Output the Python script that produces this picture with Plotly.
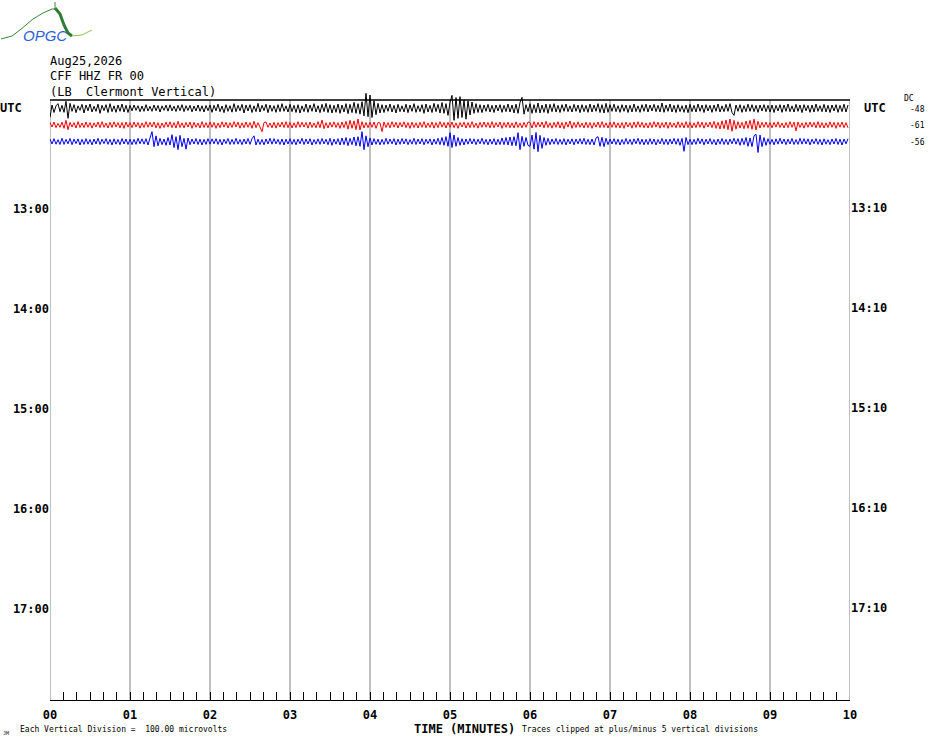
import plotly.graph_objects as go

# helicorder: one row per 10 minutes, 40 samples per minute (1.5 s), values in microvolts
row_labels = ["12:00", "12:10", "12:20"]
trace_colors = ["black", "red", "blue"]
dc_offsets = [-48, -61, -56]
uv_per_division = 100

black_uv = [
    [-54, 20, -25, 15, 28, -20, 18, -24, 42, -60, 30, -18, 22, -26, 15, -12, 24, -28, 20, -15,
     26, -22, 12, -18, 25, -30, 18, -14, 22, -25, 28, -20, 15, -24, 20, -18, 26, -22, 18, -25],
    [18, -15, 20, -12, 16, -20, 14, -18, 22, -16, 12, -18, 20, -14, 17, -22, 15, -12, 19, -17,
     21, -15, 13, -19, 18, -14, 22, -20, 16, -13, 18, -21, 14, -16, 20, -18, 15, -22, 17, -14],
    [20, -24, 18, -15, 25, -20, 14, -26, 22, -18, 16, -23, 28, -20, 18, -15, 24, -28, 20, -16,
     22, -25, 15, -20, 30, -22, 18, -14, 25, -26, 20, -18, 16, -24, 22, -20, 28, -18, 15, -22],
    [24, -20, 18, -25, 22, -28, 15, -20, 26, -24, 20, -18, 28, -22, 16, -26, 24, -20, 30, -25,
     22, -28, 18, -24, 26, -30, 20, -22, 28, -32, 24, -26, 36, -30, 28, -35, 40, -45, 90, -50],
    [80, -55, 45, -38, 30, -28, 22, -25, 20, -18, 26, -22, 18, -28, 24, -20, 15, -22, 25, -26,
     20, -18, 28, -24, 16, -20, 22, -30, 26, -22, 18, -25, 30, -20, 24, -28, 35, -30, 28, -42],
    [35, 78, -72, 65, -60, 70, -55, 50, -65, 45, -40, 38, -30, 28, -25, 22, -26, 20, -18, 24,
     -22, 18, -25, 20, -16, 22, -24, 18, -20, 26, -22, 20, -28, 25, -30, 35, 66, -35, 22, -20],
    [28, -30, 22, -26, 32, -28, 20, -24, 26, -30, 24, -20, 28, -22, 18, -25, 22, -18, 26, -20,
     15, -22, 24, -18, 20, -26, 22, -20, 18, -24, 26, -22, 20, -18, 28, -25, 22, -28, 30, -24],
    [22, -18, 25, -20, 16, -24, 22, -18, 20, -25, 18, -22, 26, -20, 15, -24, 22, -18, 25, -22,
     20, -16, 24, -20, 18, -22, 32, -24, 20, -18, 26, -22, 18, -25, 22, -20, 16, -24, 20, -26],
    [24, -20, 18, -22, 26, -18, 20, -25, 22, -16, 18, -24, 20, -18, 26, -22, 15, -20, 24, -18,
     28, -25, -42, 20, -18, 22, -24, 16, -20, 25, -18, 22, -20, 18, -24, 20, -16, 22, -20, 18],
    [-22, 20, -25, 18, -16, 22, -24, 20, -18, 26, -20, 15, -22, 24, -18, 20, -26, 22, -15, 18,
     -24, 20, -22, 26, -18, 16, -20, 24, -22, 18, -25, 20, -16, 22, -24, 18, -20, 25, -22, 20],
]
red_uv = [
    [15, -12, 18, -16, 10, -14, 17, -20, 28, -28, 16, -12, 14, -18, 20, -15, 12, -16, 18, -14,
     15, -19, 13, -12, 18, -16, 20, -14, 12, -18, 16, -15, 19, -12, 14, -17, 15, -20, 18, -13],
    [14, -16, 18, -12, 15, -19, 13, -15, 20, -14, 16, -12, 18, -17, 14, -20, 12, -15, 17, -13,
     19, -16, 14, -18, 22, -15, 13, -17, 15, -12, 18, -20, 16, -14, 12, -18, 20, -15, 14, -16],
    [18, -14, 15, -20, 12, -16, 19, -13, 16, -18, 14, -15, 20, -12, 17, -19, 13, -16, 18, -14,
     15, -20, 22, -16, 14, -18, -40, 15, 18, -14, 12, -17, 16, -19, 14, -12, 18, -15, 20, -16],
    [15, -18, 13, -16, 20, -14, 17, -12, 15, -19, 18, -15, 12, -17, 20, -16, 30, -22, 14, -18,
     16, -13, 19, -15, 14, -20, 18, -16, 22, -25, 28, -20, 25, -28, 36, -30, 20, -18, 15, -16],
    [16, -14, 18, -20, 15, 12, -40, 18, -15, 14, -17, 20, -13, 16, -18, 15, -12, 19, -16, 14,
     -20, 17, -15, 13, -18, 16, -14, 20, -17, 12, -15, 18, -19, 14, -16, 20, -13, 15, -18, 16],
    [-14, 18, -16, 13, -20, 15, -12, 17, -18, 14, -16, 20, -15, 12, -19, 16, -14, 18, -13, 15,
     -17, 20, -16, 14, -12, 18, -20, 15, -14, 17, -16, 13, -18, 19, -15, 12, -17, 16, -14, 18],
    [15, -18, 20, -14, 16, -12, 18, -17, 22, -15, 13, -19, 16, -14, 20, -18, 15, -22, 18, -13,
     24, -20, 16, -15, 19, -14, 12, -18, 17, -16, 15, -20, 14, -13, 18, -16, 20, -15, 13, -18],
    [16, -14, 19, -16, 13, -18, 15, -20, 17, -12, 14, -19, 18, -15, 20, -14, 16, -17, 13, -18,
     15, -16, 20, -13, 17, -19, 14, -15, 18, -20, 16, -14, 12, -17, 19, -15, 14, -18, 20, -16],
    [15, -18, 13, -16, 20, -14, 17, -19, 15, -12, 18, -16, 22, -20, 16, -24, 25, -22, 30, -28,
     36, -38, 28, -25, 20, -18, 16, -22, 24, -20, 28, -26, 35, -30, 22, -18, 16, -14, 18, -15],
    [14, -17, 16, -13, 19, -15, 12, -18, 15, -16, 20, -14, 17, -35, 18, -15, 13, -19, 16, -14,
     18, -12, 15, -17, 20, -16, 14, -18, 13, -15, 19, -14, 16, -20, 15, -13, 18, -16, 14, -17],
]
blue_uv = [
    [16, -14, 18, -15, 12, -17, 20, -16, 14, -13, 19, -18, 15, -12, 17, -20, 14, -16, 18, -15,
     13, -19, 16, -14, 20, -17, 15, -12, 18, -16, 14, -20, 17, -15, 13, -18, 19, -14, 16, -17],
    [15, -18, 14, -16, 20, -13, 17, -15, 18, -20, 22, 60, -30, 35, -25, 20, -18, 16, -22, 25,
     -20, 42, -35, 30, -48, 38, -30, 20, -45, 22, -18, 16, -14, 19, -17, 15, -20, 14, -16, 18],
    [-15, 17, -13, 18, -16, 14, -20, 15, -12, 19, -17, 14, -16, 20, -15, 13, -18, 16, -14, 19,
     -16, 18, 35, -20, 15, -17, 13, -19, 16, -14, 20, -15, 18, -13, 14, -17, 16, -20, 15, -14],
    [18, -16, 14, -19, 15, -13, 20, -17, 16, -14, 18, -20, 13, -15, 17, -16, 19, -14, 15, -18,
     20, -22, 16, -15, 18, -20, 22, -18, 25, -24, 20, -18, 28, -25, 30, -28, 60, -48, 35, -30],
    [22, -20, 18, -16, 15, -19, 14, -17, 20, -15, 16, -13, 18, -20, 15, -16, 19, -14, 17, -18,
     13, -15, 20, -17, 16, -14, 18, -19, 15, -12, 17, -20, 16, -15, 20, -18, 25, -22, 30, -28],
    [54, -35, 40, -28, 25, -22, 18, -20, 16, -15, 19, -14, 17, -18, 15, -13, 20, -16, 14, -19,
     16, -15, 18, -20, 14, -17, 22, -18, 25, -20, 28, -24, 30, -25, 54, -48, 32, -28, 25, -22],
    [-28, 40, -45, 55, -60, 38, -40, 25, -22, 20, -18, 16, -15, 19, -17, 14, -16, 18, -20, 15,
     -14, 17, -19, 16, -13, 18, -15, 20, -17, 14, -18, 16, -20, 22, 30, -28, 26, -30, 20, -18],
    [16, -14, 18, -17, 15, -20, 13, -16, 19, -15, 14, -18, 17, -13, 20, -16, 15, -19, 14, -17,
     18, -15, 16, -20, 13, -14, 19, -17, 15, -18, 16, -14, 20, -16, 18, -22, 20, -58, 25, -18],
    [15, -18, 14, -16, 20, -13, 17, -19, 15, -14, 18, -16, 13, -20, 16, -15, 19, -17, 14, -18,
     16, -13, 20, -15, 18, -22, 20, -18, 25, -28, 22, -30, 35, 45, -65, 40, -30, 25, -22, 18],
    [-16, 14, -19, 17, -15, 20, -13, 16, -18, 15, -14, 19, -17, 13, -16, 20, -15, 18, -14, 17,
     -19, 15, -13, 18, -16, 14, -20, 17, -15, 12, -18, 16, -14, 19, -17, 15, -20, 16, -13, 18],
]
traces_uv = [black_uv, red_uv, blue_uv]

minute_ticks = list(range(11))
minute_labels = [f"{m:02d}" for m in minute_ticks]
left_hours = ["13:00", "14:00", "15:00", "16:00", "17:00"]
right_hours = ["13:10", "14:10", "15:10", "16:10", "17:10"]
n_rows = 36


def row_of(label):
    h, m = label.split(":")
    return (int(h) - 12) * 6 + int(m) // 10


def px(x, y):
    # page pixel -> paper coords (plot area spans 50..850 x 88..700)
    return (x - 50) / 800, (700 - y) / 612


mono = "DejaVu Sans Mono"
fig = go.Figure()

for label, color, minutes in zip(row_labels, trace_colors, traces_uv):
    row = row_of(label)
    xs, ys = [], []
    for m, vals in enumerate(minutes):
        for k, v in enumerate(vals):
            xs.append(m + k / len(vals))
            ys.append(row + 0.5 - v / uv_per_division)
    fig.add_trace(go.Scatter(x=xs, y=ys, mode="lines", line=dict(color=color, width=1),
                             hoverinfo="skip", showlegend=False))

# minute grid lines and top border
for m in minute_ticks:
    fig.add_shape(type="line", x0=m, x1=m, y0=0, y1=n_rows, xref="x", yref="y",
                  line=dict(color="#808080", width=1), layer="below")
fig.add_shape(type="line", x0=0, x1=10, y0=0, y1=0, xref="x", yref="y",
              line=dict(color="black", width=1.5))

ann = []
# header
for text, yy in [("Aug25,2026", 61), ("CFF HHZ FR 00", 76), ("(LB\u00a0 Clermont Vertical)", 92)]:
    xp, yp = px(48, yy)
    ann.append(dict(text=text, x=xp, y=yp, xanchor="left", yanchor="middle",
                    font=dict(family=mono, size=12, color="black")))
# UTC labels
ann.append(dict(text="<b>UTC</b>", x=px(-2, 0)[0], y=0.5, yref="y", xanchor="left",
                yanchor="middle", font=dict(family=mono, size=12, color="black")))
ann.append(dict(text="<b>UTC</b>", x=px(862, 0)[0], y=0.5, yref="y", xanchor="left",
                yanchor="middle", font=dict(family=mono, size=12, color="black")))
# right hour labels
for lab, rlab in zip(left_hours, right_hours):
    ann.append(dict(text=f"<b>{rlab}</b>", x=px(849, 0)[0], y=row_of(lab) + 0.5, yref="y",
                    xanchor="left", yanchor="middle", font=dict(family=mono, size=12, color="black")))
# DC offsets
ann.append(dict(text="DC", x=px(902, 0)[0], y=-0.1, yref="y", xanchor="left", yanchor="middle",
                font=dict(family=mono, size=8, color="black")))
for label, dc in zip(row_labels, dc_offsets):
    ann.append(dict(text=str(dc), x=px(927, 0)[0], y=row_of(label) + 0.55, yref="y",
                    xanchor="right", yanchor="middle", font=dict(family=mono, size=8, color="black")))
# footer
for text, xx, size, bold in [("Each Vertical Division =\u00a0 100.00 microvolts", 18, 8, False),
                             ("TIME (MINUTES)", 412, 12, True),
                             ("Traces clipped at plus/minus 5 vertical divisions", 520, 8, False)]:
    xp, yp = px(xx, 729)
    ann.append(dict(text=f"<b>{text}</b>" if bold else text, x=xp, y=yp, xanchor="left",
                    yanchor="middle", font=dict(family=mono, size=size, color="black")))
ann.append(dict(text="JM", x=px(1, 0)[0], y=px(0, 733)[1], xanchor="left", yanchor="middle",
                font=dict(family=mono, size=5, color="black")))
# logo text
ann.append(dict(text="<i>OPGC</i>", x=px(45, 0)[0], y=px(0, 35)[1], xanchor="center",
                yanchor="middle", font=dict(family="Liberation Sans", size=15, color="#2f5fd8")))

for a in ann:
    a.setdefault("xref", "paper")
    a.setdefault("yref", "paper")
    a["showarrow"] = False


# logo curve
def path(points):
    return "M " + " L ".join(f"{px(x, y)[0]:.4f},{px(x, y)[1]:.4f}" for x, y in points)


fig.add_shape(type="path", xref="paper", yref="paper",
              path=path([(1, 39), (12, 36), (20, 30), (33, 19), (43, 13), (52, 9), (56, 9)]),
              line=dict(color="#3a8a3a", width=1))
fig.add_shape(type="path", xref="paper", yref="paper",
              path=path([(55, 8), (60, 14), (64, 25), (68, 33), (72, 36)]),
              line=dict(color="#2e7d32", width=3))
fig.add_shape(type="path", xref="paper", yref="paper",
              path=path([(72, 36), (82, 35), (92, 30)]),
              line=dict(color="#8bc34a", width=1))
fig.add_shape(type="path", xref="paper", yref="paper",
              path=path([(55, 2), (55, 10)]), line=dict(color="#3a8a3a", width=1))

fig.update_layout(
    width=930, height=744,
    margin=dict(l=50, r=80, t=88, b=44),
    paper_bgcolor="white", plot_bgcolor="white",
    showlegend=False,
    annotations=ann,
    xaxis=dict(range=[0, 10], tickvals=minute_ticks, ticktext=minute_labels, automargin=False,
               ticks="inside", ticklen=8, tickcolor="black", tickwidth=1, ticklabelstandoff=4,
               minor=dict(tick0=0, dtick=1 / 6, ticks="inside", ticklen=8, tickcolor="black", showgrid=False),
               showgrid=False, zeroline=False, showline=True, linecolor="black", linewidth=1,
               tickfont=dict(family=mono, size=12, color="black", weight="bold")),
    yaxis=dict(range=[n_rows, n_rows - 612 / (600 / n_rows)], automargin=False,
               tickvals=[row_of(h) + 0.5 for h in left_hours], ticktext=left_hours,
               ticks="", showgrid=False, zeroline=False, showline=False,
               tickfont=dict(family=mono, size=12, color="black", weight="bold")),
)

# drop the default 8px page margin so the figure fills the window
fig.write_html("out.html", config={"displayModeBar": False},
               post_script="document.body.style.margin = '0';")
